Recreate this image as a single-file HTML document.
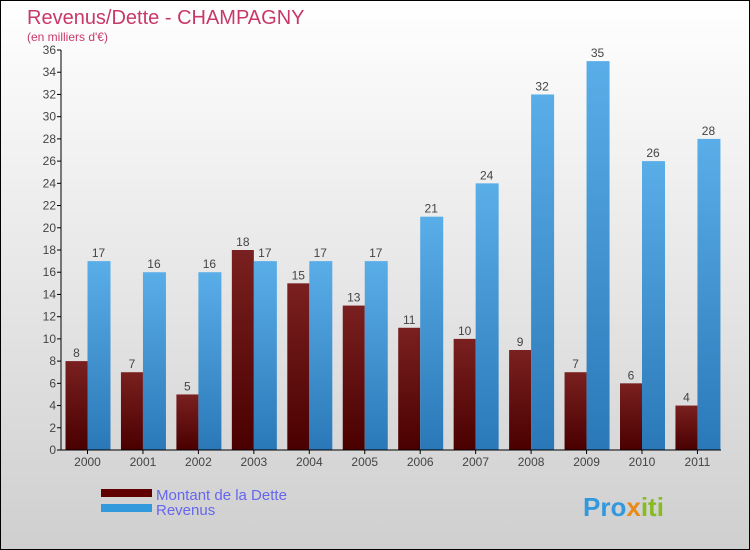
<!DOCTYPE html>
<html><head><meta charset="utf-8"><style>
body{margin:0;}
#wrap{width:748px;height:548px;border:1px solid #000;background:linear-gradient(#ffffff,#cfcfcf);position:relative;font-family:"Liberation Sans",sans-serif;overflow:hidden}
</style></head><body>
<div id="wrap">
<svg id="c" width="748" height="548" xmlns="http://www.w3.org/2000/svg">
<defs>
<linearGradient id="gd" x1="0" y1="0" x2="0" y2="1"><stop offset="0" stop-color="#7a2020"/><stop offset="1" stop-color="#4a0000"/></linearGradient>
<linearGradient id="gb" x1="0" y1="0" x2="0" y2="1"><stop offset="0" stop-color="#5aaee8"/><stop offset="1" stop-color="#2a78b8"/></linearGradient>
</defs>
<text x="26" y="23" font-size="20" fill="#c8386a">Revenus/Dette - CHAMPAGNY</text>
<text x="26" y="40" font-size="12" fill="#c8386a">(en milliers d'€)</text>
<g id="bars"></g>
<g id="axes"></g>
<rect x="100" y="488" width="51" height="8" fill="#600000"/>
<rect x="100" y="503" width="51" height="8" fill="#3399dd"/>
<text x="155" y="499" font-size="15" fill="#6666ee">Montant de la Dette</text>
<text x="155" y="514" font-size="15" fill="#6666ee">Revenus</text>
<text x="582" y="515" font-size="26" font-weight="bold" fill="#3399dd">Pro<tspan fill="#e88a1a">x</tspan><tspan fill="#88bb22">iti</tspan></text>
</svg>
</div>
<script>
const years=["2000","2001","2002","2003","2004","2005","2006","2007","2008","2009","2010","2011"];
const dette=[8,7,5,18,15,13,11,10,9,7,6,4];
const revenus=[17,16,16,17,17,17,21,24,32,35,26,28];
const ticks=[0,2,4,6,8,10,12,14,16,18,20,22,24,26,28,30,32,34,36];
const NS="http://www.w3.org/2000/svg";
const y0=449,ymax=36,ph=400,x0=60,step=55.45,c0=86.5,bw=22;
const Y=v=>y0-v/ymax*ph;
const X=i=>c0+i*step;
const bars=document.getElementById('bars'),axes=document.getElementById('axes');
function mk(p,tag,a){const e=document.createElementNS(NS,tag);for(const k in a)e.setAttribute(k,a[k]);p.appendChild(e);return e;}
years.forEach((yr,i)=>{
 const r1=mk(bars,'rect',{x:X(i)-bw,y:Y(dette[i]),width:bw,height:y0-Y(dette[i]),fill:'url(#gd)'});
 
 
 const r2=mk(bars,'rect',{x:X(i),y:Y(revenus[i]),width:bw+1,height:y0-Y(revenus[i]),fill:'url(#gb)'});
 
 
 const t1=mk(bars,'text',{x:X(i)-bw/2,y:Y(dette[i])-4,'font-size':12,fill:'#444','text-anchor':'middle'});t1.textContent=dette[i];
 
 
 const t2=mk(bars,'text',{x:X(i)+bw/2,y:Y(revenus[i])-4,'font-size':12,fill:'#444','text-anchor':'middle'});t2.textContent=revenus[i];
 
 
 const tl=mk(axes,'text',{x:X(i),y:y0+16,'font-size':12,fill:'#444','text-anchor':'middle'});tl.textContent=yr;
 
 
 mk(axes,'line',{x1:X(i),x2:X(i),y1:y0,y2:y0+4,stroke:'#000'});
});
ticks.forEach(t=>{
 mk(axes,'line',{x1:x0-4,x2:x0,y1:Y(t),y2:Y(t),stroke:'#000'});
 const l=mk(axes,'text',{x:x0-5,y:Y(t)+4,'font-size':12,fill:'#444','text-anchor':'end'});l.textContent=t;
 
 
});
const ya=mk(axes,'line',{x1:x0,x2:x0,y1:Y(36),y2:y0,stroke:'#000'});


const xa=mk(axes,'line',{x1:x0,x2:720,y1:y0,y2:y0,stroke:'#000'});


</script>
</body></html>
